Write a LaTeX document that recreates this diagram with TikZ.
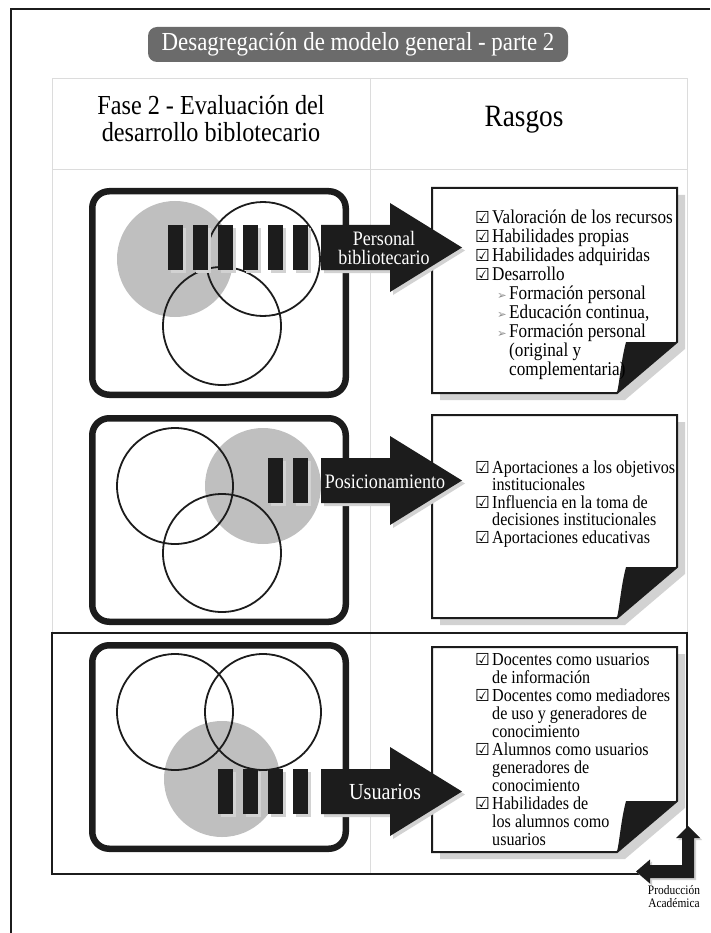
\documentclass[tikz,border=0pt]{standalone}
\usepackage{fontspec}
\setmainfont{Liberation Serif}[FakeStretch=0.88]
\newfontfamily\symf{DejaVu Sans}

\definecolor{ink}{HTML}{1C1C1C}
\definecolor{venngray}{HTML}{BFBFBF}
\definecolor{shade}{HTML}{D2D2D2}
\definecolor{titlegray}{HTML}{6B6B6B}
\definecolor{rulegray}{HTML}{DCDCDC}

% list marks
\newcommand{\chk}{\makebox[17pt][l]{\symf\bfseries\fontsize{16.5}{16.5}\selectfont ☑}}
\newcommand{\contl}{\hspace*{17pt}}
\newcommand{\subi}{\hspace*{22pt}\makebox[12pt][l]{\color{black!45}\symf\fontsize{11.5}{11.5}\selectfont ➢}}
\newcommand{\subc}{\hspace*{34pt}}

% striped block arrow, #1 = centre y, #2 = x of the bars
\newcommand{\bararrow}[2]{%
  \begin{scope}[shift={(0,#1)}]
    \foreach \bx in {#2}
      \fill[ShadeStyle] (\bx+3,-19.5) rectangle ++(15,45);
    \fill[ShadeStyle] (324,-19.5) -- (393,-19.5) -- (393,-41.5) -- (465,3)
      -- (393,47.5) -- (393,25.5) -- (324,25.5) -- cycle;
    \foreach \bx in {#2}
      \fill[InkStyle] (\bx,-22.5) rectangle ++(15,45);
    \fill[InkStyle] (321,-22.5) -- (390,-22.5) -- (390,-44.5) -- (462,0)
      -- (390,44.5) -- (390,22.5) -- (321,22.5) -- cycle;
  \end{scope}}

% page with curled corner, #1 = top y, #2 = bottom y
\newcommand{\card}[2]{%
  \fill[ShadeStyle] (440,#1+7) -- (685,#1+7) -- (685,#2-44) -- (625,#2+7) -- (440,#2+7) -- cycle;
  \draw[CardStyle] (432,#1) -- (677,#1) -- (677,#2-51) -- (617,#2) -- (432,#2) -- cycle;
  \fill[InkStyle] (677,#2-51) -- (626,#2-51) .. controls (621,#2-32) and (620,#2-14) .. (617,#2) -- cycle;}

\begin{document}
\begin{tikzpicture}[x=1pt, y=-1pt]
\tikzstyle{InkStyle}=[fill=ink]
\tikzstyle{ShadeStyle}=[fill=shade]
\tikzstyle{BoxStyle}=[draw=ink, line width=6.5pt, rounded corners=17pt]
\tikzstyle{CardStyle}=[draw=ink, fill=white, line width=2pt]
\tikzstyle{GrayCirc}=[fill=venngray]
\tikzstyle{OpenCirc}=[draw=ink, line width=1.8pt]
\tikzstyle{RuleStyle}=[draw=rulegray, line width=0.8pt]
\tikzstyle{ItemStyle}=[anchor=base west, inner sep=0pt]
\tikzstyle{ArrowText}=[text=white, align=center, inner sep=0pt,
                       font=\fontsize{20.5}{19}\selectfont]
\useasboundingbox (0,0) rectangle (710,933);

% page frame
\draw[ink, line width=2pt] (710,9) -- (11,9) -- (11,933);

% title
\node[fill=titlegray, rounded corners=9pt, text=white, minimum width=420,
      minimum height=35, inner sep=0pt, font=\fontsize{26}{26}\selectfont]
      (title) at (358,44.5) {Desagregación de modelo general - parte 2};

% table
\draw[RuleStyle] (52,633) -- (52,78) -- (687,78) -- (687,633);
\draw[RuleStyle] (52,169) -- (687,169);
\draw[RuleStyle] (370,78) -- (370,874);
\draw[ink, line width=1.5pt] (52,633) rectangle (687,874);
\node[align=center, font=\fontsize{27.5}{27}\selectfont] (hfase) at (211,118.5)
      {Fase 2 - Evaluación del\\desarrollo biblotecario};
\node[font=\fontsize{31}{31}\selectfont] (hrasgos) at (524,120) {Rasgos};

% row 1
\draw[BoxStyle] (92.25,191.25) rectangle (345.75,394.75);
\fill[GrayCirc] (175,259) circle (58pt);
\draw[OpenCirc] (263,259) circle (57pt);
\draw[OpenCirc] (222,326) circle (59pt);
\card{188}{393}
\bararrow{247.5}{168,193,...,293}
\node[ArrowText] (lpers) at (384,248) {Personal\\bibliotecario};
\foreach \t [count=\i] in {{\chk Valoración de los recursos},
    {\chk Habilidades propias}, {\chk Habilidades adquiridas},
    {\chk Desarrollo}, {\subi Formación personal},
    {\subi Educación continua,}, {\subi Formación personal},
    {\subc (original y}, {\subc complementaria)}}
  \node[ItemStyle, font=\fontsize{19.5}{19}\selectfont] (pers-\i) at (475,{204.5+19*\i}) {\t};

% row 2
\draw[BoxStyle] (92.25,418.25) rectangle (345.75,621.75);
\fill[GrayCirc] (263,486) circle (58pt);
\draw[OpenCirc] (175,486) circle (58pt);
\draw[OpenCirc] (222,553) circle (59pt);
\card{415}{618}
\bararrow{480.5}{268,293}
\node[ArrowText] (lpos) at (385,482) {Posicionamiento};
\foreach \t [count=\i] in {{\chk Aportaciones a los objetivos},
    {\contl institucionales}, {\chk Influencia en la toma de},
    {\contl decisiones institucionales}, {\chk Aportaciones educativas}}
  \node[ItemStyle, font=\fontsize{18.3}{18}\selectfont] (pos-\i) at (475,{455.4+17.6*\i}) {\t};

% row 3
\draw[BoxStyle] (92.25,645.25) rectangle (345.75,848.75);
\fill[GrayCirc] (222,779) circle (58pt);
\draw[OpenCirc] (175,712) circle (58pt);
\draw[OpenCirc] (263,712) circle (58pt);
\card{647}{852}
\bararrow{791.5}{218,243,...,293}
\node[ArrowText, font=\fontsize{23}{23}\selectfont] (lusu) at (385,792) {Usuarios};
\foreach \t [count=\i] in {{\chk Docentes como usuarios},
    {\contl de información}, {\chk Docentes como mediadores},
    {\contl de uso y generadores de}, {\contl conocimiento},
    {\chk Alumnos como usuarios}, {\contl generadores de},
    {\contl conocimiento}, {\chk Habilidades de},
    {\contl los alumnos como}, {\contl usuarios}}
  \node[ItemStyle, font=\fontsize{18.3}{18}\selectfont] (usu-\i) at (475,{647+18*\i}) {\t};

% bent arrow
\fill[ShadeStyle] (638,873.5) -- (652,861.5) -- (652,867) -- (684,867) -- (684,840)
  -- (678,840) -- (690,828) -- (702,840) -- (696,840) -- (696,880) -- (652,880)
  -- (652,885.5) -- cycle;
\fill[InkStyle] (636,871.5) -- (650,859.5) -- (650,865) -- (682,865) -- (682,838)
  -- (676,838) -- (688,826) -- (700,838) -- (694,838) -- (694,878) -- (650,878)
  -- (650,883.5) -- cycle;
\node[align=center, inner sep=0pt, font=\fontsize{13}{13}\selectfont] (prod) at (674,897)
      {Producción\\Académica};
\end{tikzpicture}
\end{document}
